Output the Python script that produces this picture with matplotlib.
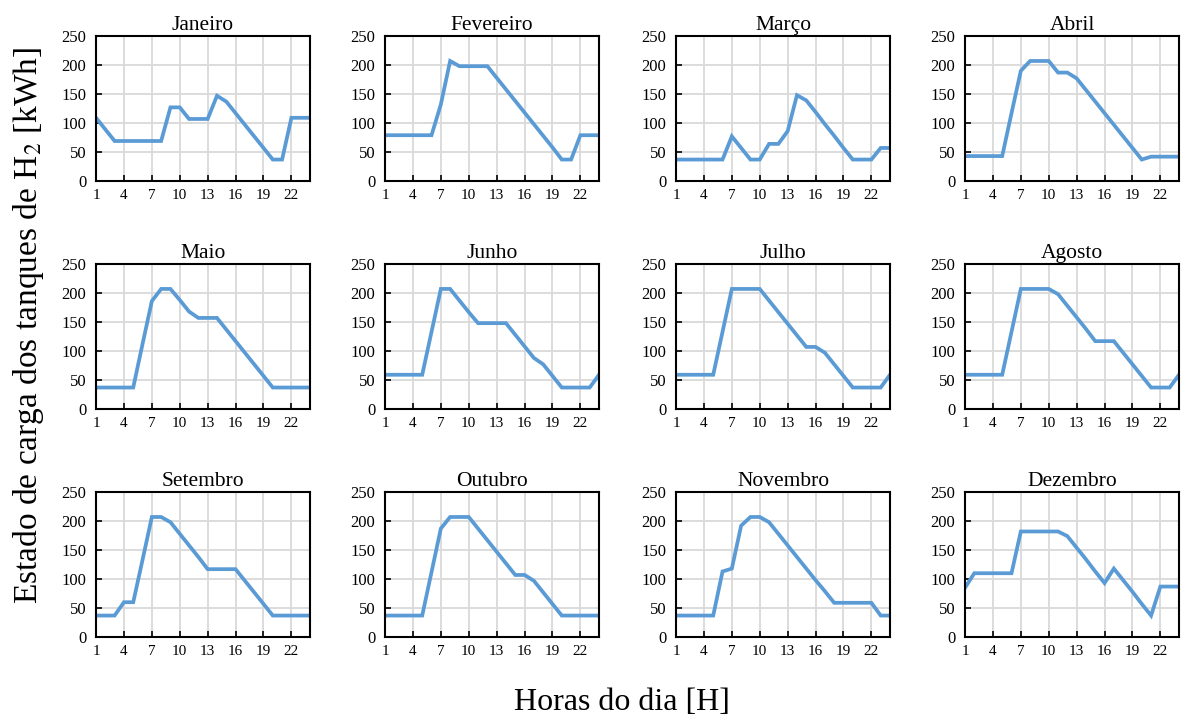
import numpy as np
import matplotlib
matplotlib.use("Agg")
import matplotlib.pyplot as plt

plt.rcParams['font.family'] = ['Liberation Serif', 'DejaVu Serif']
plt.rcParams['mathtext.fontset'] = 'stix'

horas = np.arange(1, 25)

meses = ["Janeiro", "Fevereiro", "Março", "Abril", "Maio", "Junho",
         "Julho", "Agosto", "Setembro", "Outubro", "Novembro", "Dezembro"]

janeiro = [109, 89, 69, 69, 69, 69, 69, 69, 127, 127, 107, 107,
           107, 147, 137, 117, 97, 77, 57, 37, 37, 109, 109, 109]
fevereiro = [79, 79, 79, 79, 79, 79, 132, 207, 198, 198, 198, 198,
             178, 158, 138, 118, 98, 78, 58, 37, 37, 79, 79, 79]
marco = [37, 37, 37, 37, 37, 37, 77, 57, 37, 37, 64, 64,
         86, 148, 139, 119, 98, 78, 57, 37, 37, 37, 57, 57]
abril = [43, 43, 43, 43, 43, 117, 190, 207, 207, 207, 187, 187,
         177, 157, 137, 117, 97, 77, 57, 37, 42, 42, 42, 42]
maio = [37, 37, 37, 37, 37, 112, 186, 207, 207, 188, 168, 157,
        157, 157, 137, 117, 97, 77, 57, 37, 37, 37, 37, 37]
junho = [59, 59, 59, 59, 59, 133, 207, 207, 187, 167, 148, 148,
         148, 148, 128, 108, 88, 77, 57, 37, 37, 37, 37, 59]
julho = [59, 59, 59, 59, 59, 133, 207, 207, 207, 207, 187, 167,
         147, 127, 107, 107, 97, 77, 57, 37, 37, 37, 37, 59]
agosto = [59, 59, 59, 59, 59, 133, 207, 207, 207, 207, 198, 178,
          158, 138, 117, 117, 117, 97, 77, 57, 37, 37, 37, 59]
setembro = [37, 37, 37, 60, 60, 133, 207, 207, 198, 178, 158, 138,
            117, 117, 117, 117, 97, 77, 57, 37, 37, 37, 37, 37]
outubro = [37, 37, 37, 37, 37, 112, 187, 207, 207, 207, 187, 167,
           147, 127, 107, 107, 97, 77, 57, 37, 37, 37, 37, 37]
novembro = [37, 37, 37, 37, 37, 113, 118, 192, 207, 207, 198, 178,
            158, 138, 118, 98, 79, 59, 59, 59, 59, 59, 37, 37]
dezembro = [85, 110, 110, 110, 110, 110, 182, 182, 182, 182, 182, 174,
            154, 134, 113, 93, 118, 98, 78, 57, 37, 87, 87, 87]

series = [janeiro, fevereiro, marco, abril, maio, junho,
          julho, agosto, setembro, outubro, novembro, dezembro]

fig = plt.figure(figsize=(11.81, 7.18), dpi=100)

lefts = [0.0813, 0.3260, 0.5724, 0.8171]
bottoms = [0.7479, 0.4304, 0.1128]
w, h = 0.1812, 0.2019

for i, (nome, vals) in enumerate(zip(meses, series)):
    ax = fig.add_axes([lefts[i % 4], bottoms[i // 4], w, h])
    ax.plot(horas, vals, color='#5B9BD5', linewidth=2.7, solid_joinstyle='miter')
    ax.set_xlim(1, 24)
    ax.set_ylim(0, 250)
    ax.set_xticks(np.arange(1, 24, 3))
    ax.set_yticks(np.arange(0, 251, 50))
    ax.grid(True, color='#D9D9D9', linewidth=1.3)
    ax.set_axisbelow(True)
    ax.tick_params(direction='in', length=4, width=1.2)
    ax.tick_params(axis='y', labelsize=12, pad=7)
    ax.tick_params(axis='x', labelsize=11, pad=6)
    for s in ax.spines.values():
        s.set_linewidth(1.5)
    ax.set_title(nome, fontsize=15.5, pad=4)

fig.text(0.024, 0.547, 'Estado de carga dos tanques de H$_2$ [kWh]',
         rotation=90, va='center', ha='center', fontsize=24)
fig.text(0.527, 0.022, 'Horas do dia [H]', ha='center', va='center', fontsize=23)

plt.savefig("out.png", dpi=100)
